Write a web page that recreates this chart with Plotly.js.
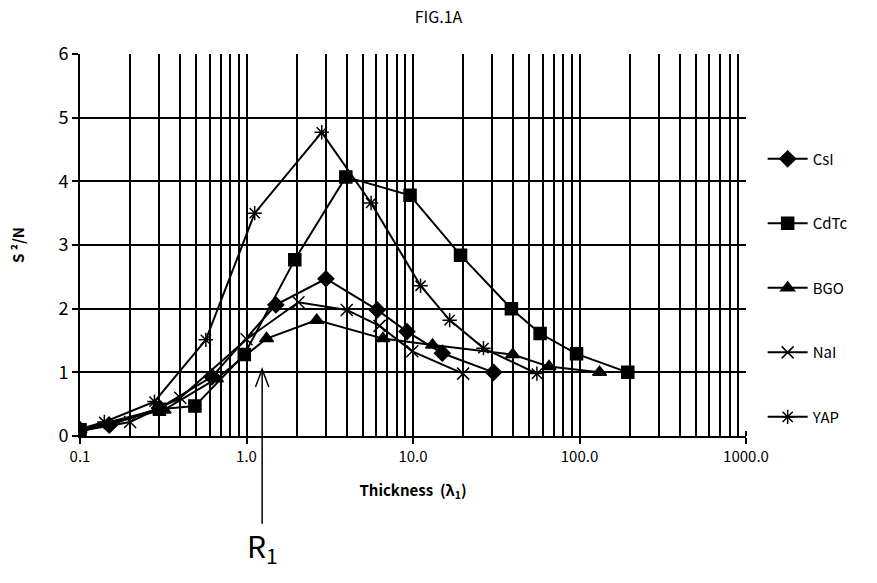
<!DOCTYPE html>
<html><head><meta charset="utf-8">
<script src="https://cdn.plot.ly/plotly-3.0.1.min.js"></script>
<style>body{margin:0;background:#fff}#chart{width:877px;height:583px}</style>
</head><body><div id="chart"></div>
<script>
const csiX = [0.1, 0.15, 0.3, 0.62, 1.5, 3.0, 6.1, 9.2, 15, 30.5];
const csiY = [0.1, 0.17, 0.44, 0.93, 2.06, 2.47, 1.98, 1.64, 1.3, 1.0];
const cdteX = [0.1, 0.3, 0.49, 0.97, 1.95, 3.95, 9.6, 19.3, 39, 58, 96, 195];
const cdteY = [0.1, 0.42, 0.47, 1.28, 2.77, 4.07, 3.78, 2.84, 2.0, 1.61, 1.29, 1.0];
const bgoX = [0.1, 0.32, 0.66, 1.32, 2.64, 6.6, 13.1, 39.7, 65.6, 132];
const bgoY = [0.1, 0.41, 0.9, 1.53, 1.82, 1.53, 1.43, 1.28, 1.09, 1.0];
const naiX = [0.1, 0.2, 0.4, 1.0, 2.05, 4.0, 6.3, 9.9, 20];
const naiY = [0.08, 0.22, 0.6, 1.52, 2.1, 1.98, 1.73, 1.33, 0.98];
const yapX = [0.1, 0.14, 0.28, 0.57, 1.12, 2.83, 5.6, 11.1, 16.6, 26.5, 55.5];
const yapY = [0.11, 0.22, 0.54, 1.51, 3.5, 4.77, 3.66, 2.36, 1.82, 1.38, 0.98];
const xTickVals = [0.1, 1, 10, 100, 1000];
const xTickText = ['0.1', '1.0', '10.0', '100.0', '1000.0'];
const yTickVals = [0, 1, 2, 3, 4, 5, 6];

const FONT = '"Noto Sans CJK KR", "Noto Sans", sans-serif';
function tr(name, x, y, sym, size) {
  return {type:'scatter', mode:'lines+markers', name:name, x:x, y:y, legendgroup:name,
    line:{color:'black', width:2},
    marker:{symbol:sym, size:size, color:'black', line:{color:'black', width:1.5}}};
}
const data = [
  tr('CsI', csiX, csiY, 'diamond', 12),
  tr('CdTc', cdteX, cdteY, 'square', 12),
  tr('BGO', bgoX, bgoY, 'triangle-up', 12),
  tr('NaI', naiX, naiY, 'x-thin-open', 12),
  tr('YAP', yapX, yapY, 'asterisk-open', 12)
];
const layout = {
  width:877, height:583,
  margin:{l:80, r:131, t:54, b:147},
  paper_bgcolor:'white', plot_bgcolor:'white',
  font:{family:FONT, color:'black', size:15},
  title:{text:'FIG.1A', x:0.5, xanchor:'center', y:0.971, yanchor:'middle', font:{size:16, family:FONT}},
  xaxis:{type:'log', range:[-1, 3], tickvals:xTickVals, ticktext:xTickText,
    showgrid:true, gridcolor:'black', gridwidth:1.5, showline:true, linecolor:'black', linewidth:2,
    ticks:'outside', ticklen:6, tickcolor:'black', tickwidth:1.5, tickfont:{size:15},
    minor:{dtick:'D1', showgrid:true, gridcolor:'black', gridwidth:1.5, ticks:'inside', ticklen:5, tickcolor:'black'},
    title:{text:'<b>Thickness  (λ<sub>1</sub>)</b>', font:{size:15}, standoff:20}, zeroline:false},
  yaxis:{range:[0, 6], tickvals:yTickVals, showgrid:true, gridcolor:'black', gridwidth:1.5,
    showline:true, linecolor:'black', linewidth:2, ticks:'outside', ticklen:6, tickcolor:'black', tickwidth:1.5,
    tickfont:{size:18}, title:{text:'<b>S ²/N</b>', font:{size:15}, standoff:30}, zeroline:false},
  showlegend:true,
  legend:{x:1.025, xanchor:'left', y:0.768, yanchor:'top', tracegroupgap:42, font:{size:15},
    itemwidth:40, bgcolor:'rgba(0,0,0,0)'},
  shapes:[
    {type:'line', xref:'paper', yref:'paper', x0:0.2735, x1:0.2735, y0:-0.23, y1:0.175, line:{color:'black', width:1.5}},
    {type:'path', xref:'paper', yref:'paper', path:'M 0.2635 0.128 L 0.2735 0.175 L 0.2835 0.128', line:{color:'black', width:1.5}}
  ],
  annotations:[
    {text:'R<sub>1</sub>', xref:'paper', yref:'paper', x:0.2735, y:-0.29, xanchor:'center', yanchor:'middle', showarrow:false, font:{size:30, family:FONT}}
  ]
};
Plotly.newPlot('chart', data, layout, {displayModeBar:false});
</script></body></html>
